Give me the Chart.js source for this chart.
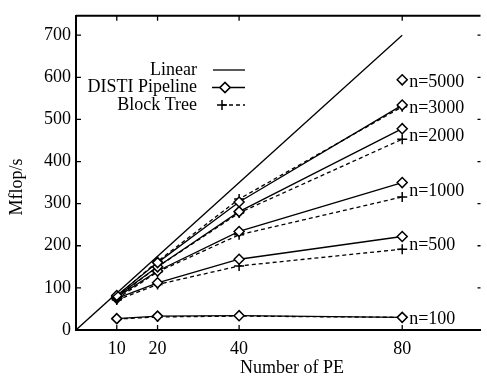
<!DOCTYPE html>
<html>
<head>
<meta charset="utf-8">
<script src="https://cdn.jsdelivr.net/npm/chart.js@4/dist/chart.umd.min.js"></script>
<style>
  html, body { margin: 0; padding: 0; background: #fff; }
  #wrap { width: 487px; height: 379px; position: relative; }
</style>
</head>
<body>
<div id="wrap"><canvas id="c" width="487" height="379"></canvas></div>
<script>
// ---- data ----
const peCounts = [10, 20, 40, 80];
const linearPE = [0, 80];
const linearMflops = [0, 700];
const sizeLabels = ['n=5000', 'n=3000', 'n=2000', 'n=1000', 'n=500', 'n=100'];
const distiN5000 = [null, null, null, 594];
const distiN3000 = [82, 160, 304, 534];
const distiN2000 = [80, 150, 281, 478];
const distiN1000 = [78, 140, 234, 350];
const distiN500  = [75, 112, 168, 222];
const distiN100  = [27, 33, 34, 30];
const treeN5000 = [null, null, null, 594];
const treeN3000 = [80, 163, 311, 530];
const treeN2000 = [78, 150, 278, 453];
const treeN1000 = [74, 138, 226, 316];
const treeN500  = [71, 108, 152, 192];
const treeN100  = [26, 31, 33, 30];
const yTickValues = [0, 100, 200, 300, 400, 500, 600, 700];
const seriesNames = ['Linear', 'DISTI Pipeline', 'Block Tree'];
const xTitle = 'Number of PE';
const yTitle = 'Mflop/s';

const distiSeries = [distiN5000, distiN3000, distiN2000, distiN1000, distiN500, distiN100];
const treeSeries  = [treeN5000, treeN3000, treeN2000, treeN1000, treeN500, treeN100];

const FONT = '"Liberation Serif", "Times New Roman", serif';
const toPts = arr => peCounts.map((x, i) => ({ x: x, y: arr[i] }));

const datasets = [];
datasets.push({
  label: seriesNames[0],
  data: linearPE.map((x, i) => ({ x: x, y: linearMflops[i] })),
  borderColor: '#000', borderWidth: 1.3, pointRadius: 0, tension: 0
});
distiSeries.forEach((arr, k) => {
  datasets.push({
    label: seriesNames[1] + ' ' + sizeLabels[k],
    data: toPts(arr),
    borderColor: '#000', borderWidth: 1.3, tension: 0,
    pointStyle: 'rectRot', pointRadius: 5, pointBorderWidth: 1.5,
    pointBackgroundColor: '#fff', pointBorderColor: '#000', spanGaps: false
  });
});
treeSeries.forEach((arr, k) => {
  datasets.push({
    label: seriesNames[2] + ' ' + sizeLabels[k],
    data: toPts(arr),
    borderColor: '#000', borderWidth: 1.3, borderDash: [4, 3], tension: 0,
    pointStyle: 'cross', pointRadius: 5, pointBorderWidth: 1.5,
    pointBorderColor: '#000', spanGaps: false
  });
});

const framePlugin = {
  id: 'frame',
  afterDraw(chart) {
    const ctx = chart.ctx, a = chart.chartArea;
    const xs = chart.scales.x, ys = chart.scales.y;
    ctx.save();
    ctx.strokeStyle = '#000';
    ctx.lineWidth = 2;
    ctx.beginPath();
    ctx.moveTo(a.left, a.top); ctx.lineTo(a.right, a.top);
    ctx.stroke();
    ctx.lineWidth = 1.3;
    ctx.beginPath();
    peCounts.forEach(v => {
      const px = xs.getPixelForValue(v);
      ctx.moveTo(px, a.bottom); ctx.lineTo(px, a.bottom - 5);
      ctx.moveTo(px, a.top); ctx.lineTo(px, a.top + 5);
    });
    yTickValues.forEach(v => {
      const py = ys.getPixelForValue(v);
      ctx.moveTo(a.left, py); ctx.lineTo(a.left + 5, py);
      ctx.moveTo(a.right, py); ctx.lineTo(a.right - 3, py);
    });
    ctx.stroke();

    // axis titles
    ctx.fillStyle = '#000';
    ctx.font = '18px ' + FONT;
    ctx.textAlign = 'center';
    ctx.textBaseline = 'middle';
    ctx.fillText(xTitle, 292, 368);
    ctx.save();
    ctx.translate(17, 187);
    ctx.rotate(-Math.PI / 2);
    ctx.fillText(yTitle, 0, 0);
    ctx.restore();

    // size labels at the right end of each pair of curves
    ctx.textAlign = 'left';
    const last = peCounts.length - 1;
    sizeLabels.forEach((lab, k) => {
      const v = (distiSeries[k][last] + treeSeries[k][last]) / 2;
      const py = ys.getPixelForValue(v) + 2;
      ctx.fillText(lab, xs.getPixelForValue(peCounts[last]) + 7, py);
    });

    // legend
    const rows = [70, 87.5, 105];
    ctx.textAlign = 'right';
    seriesNames.forEach((name, i) => ctx.fillText(name, 197, rows[i]));
    ctx.lineWidth = 1.3;
    ctx.beginPath(); ctx.moveTo(213, rows[0]); ctx.lineTo(245, rows[0]); ctx.stroke();
    ctx.beginPath(); ctx.moveTo(212, rows[1]); ctx.lineTo(245, rows[1]); ctx.stroke();
    ctx.lineWidth = 1.5;
    ctx.fillStyle = '#fff';
    Chart.helpers.drawPoint(ctx, { pointStyle: 'rectRot', radius: 5, borderWidth: 1.5 }, 225, rows[1]);
    ctx.fill(); ctx.stroke();
    ctx.lineWidth = 1.3;
    ctx.setLineDash([4, 3]);
    ctx.beginPath(); ctx.moveTo(222, rows[2]); ctx.lineTo(245, rows[2]); ctx.stroke();
    ctx.setLineDash([]);
    ctx.lineWidth = 1.5;
    Chart.helpers.drawPoint(ctx, { pointStyle: 'cross', radius: 5, borderWidth: 1.5 }, 222, rows[2]);
    ctx.restore();
  }
};

new Chart(document.getElementById('c'), {
  type: 'line',
  data: { datasets: datasets },
  options: {
    responsive: false,
    animation: false,
    devicePixelRatio: 1,
    layout: { padding: { top: 6, right: 0, left: 0, bottom: 0 } },
    plugins: { legend: { display: false }, tooltip: { enabled: false } },
    scales: {
      x: {
        type: 'linear', min: 0, max: 99.2,
        afterBuildTicks: s => { s.ticks = peCounts.map(v => ({ value: v })); },
        afterFit: s => { s.height = 49; },
        grid: { display: false, drawTicks: false },
        border: { display: true, color: '#000', width: 2 },
        ticks: { color: '#000', font: { family: FONT, size: 18 }, padding: 8, maxRotation: 0, autoSkip: false }
      },
      y: {
        type: 'linear', min: 0, max: 746,
        afterBuildTicks: s => { s.ticks = yTickValues.map(v => ({ value: v })); },
        afterFit: s => { s.width = 76; },
        grid: { display: false, drawTicks: false },
        border: { display: true, color: '#000', width: 2 },
        ticks: { color: '#000', font: { family: FONT, size: 18 }, padding: 5 }
      }
    }
  },
  plugins: [framePlugin]
});
</script>
</body>
</html>
